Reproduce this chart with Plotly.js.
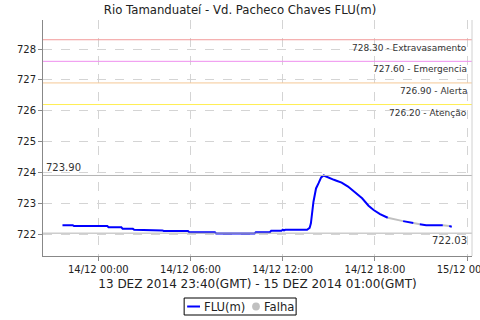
<!DOCTYPE html>
<html>
<head>
<meta charset="utf-8">
<script src="https://cdn.plot.ly/plotly-3.0.1.min.js"></script>
<style>html,body{margin:0;padding:0;background:#fff;}#chart{width:480px;height:320px;}</style>
</head>
<body>
<div id="chart"></div>
<script>
// ---- data ----
const times = [
  "2014-12-13 21:40","2014-12-13 22:20","2014-12-13 22:25","2014-12-14 00:35","2014-12-14 00:40",
  "2014-12-14 01:30","2014-12-14 01:35","2014-12-14 02:15","2014-12-14 02:20","2014-12-14 03:10",
  "2014-12-14 03:15","2014-12-14 04:10","2014-12-14 04:15","2014-12-14 05:50","2014-12-14 05:55",
  "2014-12-14 07:35","2014-12-14 07:40","2014-12-14 10:10","2014-12-14 10:15","2014-12-14 11:10",
  "2014-12-14 11:15","2014-12-14 11:55","2014-12-14 12:00","2014-12-14 12:05","2014-12-14 12:10",
  "2014-12-14 13:35","2014-12-14 13:45","2014-12-14 13:50","2014-12-14 14:00","2014-12-14 14:10",
  "2014-12-14 14:20","2014-12-14 14:30","2014-12-14 14:40","2014-12-14 14:50","2014-12-14 15:00",
  "2014-12-14 15:10","2014-12-14 15:20","2014-12-14 15:30","2014-12-14 15:50","2014-12-14 16:15",
  "2014-12-14 16:40","2014-12-14 17:10","2014-12-14 17:35","2014-12-14 17:55","2014-12-14 18:20",
  "2014-12-14 18:50","2014-12-14 19:20","2014-12-14 19:50","2014-12-14 20:10","2014-12-14 20:30",
  "2014-12-14 20:42","2014-12-14 20:55","2014-12-14 21:20","2014-12-14 22:25","2014-12-14 22:37",
  "2014-12-14 22:50","2014-12-14 23:00"
];
const fluValues = [
  722.29,722.29,722.26,722.26,722.22,
  722.22,722.17,722.17,722.14,722.14,
  722.12,722.12,722.10,722.10,722.06,
  722.06,722.02,722.02,722.06,722.06,
  722.11,722.11,722.14,722.12,722.14,
  722.14,722.20,722.35,723.05,723.48,
  723.65,723.84,723.90,723.86,723.83,
  723.78,723.76,723.73,723.67,723.54,
  723.37,723.16,722.92,722.78,722.65,
  722.53,null,722.42,722.38,722.36,
  null,722.32,722.29,722.29,null,
  722.26,722.24
];
const falhaValues = [
  null,null,null,null,null,
  null,null,null,null,null,
  null,null,null,null,null,
  null,null,null,null,null,
  null,null,null,null,null,
  null,null,null,null,null,
  null,null,null,null,null,
  null,null,null,null,null,
  null,null,null,null,null,
  722.53,722.47,722.42,null,722.36,
  722.34,722.32,null,722.29,722.28,
  722.26,null
];
const thresholdValues = [728.30, 727.60, 726.90, 726.20];
const thresholdNames  = ["Extravasamento", "Emergencia", "Alerta", "Atenção"];
const thresholdColors = ["#f29a9a", "#ee90ee", "#f5c896", "#ffee55"];
const maxValue = 723.90;
const minValue = 722.03;
const seriesNames = ["FLU(m)", "Falha"];
const seriesColors = ["#0000ff", "#c0c0c0"];
const xTickVals = ["2014-12-14 00:00","2014-12-14 06:00","2014-12-14 12:00","2014-12-14 18:00","2014-12-15 00:00"];
const yTickVals = [722, 723, 724, 725, 726, 727, 728];

const FONT = "DejaVu Sans, Verdana, sans-serif";

const traces = [
  {x: times, y: falhaValues, type: "scatter", mode: "lines", name: seriesNames[1],
   line: {color: seriesColors[1], width: 2}, showlegend: false, connectgaps: false},
  {x: times, y: fluValues, type: "scatter", mode: "lines", name: seriesNames[0],
   line: {color: seriesColors[0], width: 2}, showlegend: false, connectgaps: false}
];

const shapes = [];
const annotations = [];
thresholdValues.forEach((v, i) => {
  shapes.push({type: "line", xref: "paper", x0: 0, x1: 1, yref: "y", y0: v, y1: v,
               line: {color: thresholdColors[i], width: 1}});
  annotations.push({xref: "paper", x: 1, xanchor: "right", xshift: -3, yref: "y", y: v, yanchor: "top", yshift: -1,
                    text: v.toFixed(2) + " - " + thresholdNames[i], showarrow: false,
                    font: {family: FONT, size: 9, color: "#333"}});
});
shapes.push({type: "line", xref: "paper", x0: 0, x1: 1, yref: "y", y0: maxValue, y1: maxValue,
             line: {color: "#b4b4b4", width: 1}});
shapes.push({type: "line", xref: "paper", x0: 0, x1: 1, yref: "y", y0: minValue, y1: minValue,
             line: {color: "#b4b4b4", width: 1}});
shapes.push({type: "line", xref: "paper", x0: 1, x1: 1, yref: "paper", y0: 0, y1: 1,
             line: {color: "#d0d0d0", width: 1}});
annotations.push({xref: "paper", x: 0, xanchor: "left", xshift: 1, yref: "y", y: maxValue, yanchor: "bottom",
                  text: maxValue.toFixed(2), showarrow: false, font: {family: FONT, size: 10, color: "#333"}});
annotations.push({xref: "paper", x: 1, xanchor: "right", xshift: -3, yref: "y", y: minValue, yanchor: "top",
                  text: minValue.toFixed(2), showarrow: false, font: {family: FONT, size: 10, color: "#333"}});

// legend box (paper coordinates below the plot area)
shapes.push({type: "rect", xref: "paper", yref: "paper", x0: 0.329, x1: 0.590, y0: -0.25, y1: -0.178,
             line: {color: "#000", width: 1}, fillcolor: "#fff"});
shapes.push({type: "line", xref: "paper", yref: "paper", x0: 0.336, x1: 0.366, y0: -0.214, y1: -0.214,
             line: {color: seriesColors[0], width: 2}});
shapes.push({type: "circle", xref: "paper", yref: "paper", x0: 0.4875, x1: 0.5055, y0: -0.197, y1: -0.231,
             line: {color: seriesColors[1], width: 0}, fillcolor: seriesColors[1]});
annotations.push({xref: "paper", yref: "paper", x: 0.370, xanchor: "left", y: -0.214, yanchor: "middle",
                  text: seriesNames[0], showarrow: false, font: {family: FONT, size: 11.6, color: "#222"}});
annotations.push({xref: "paper", yref: "paper", x: 0.510, xanchor: "left", y: -0.214, yanchor: "middle",
                  text: seriesNames[1], showarrow: false, font: {family: FONT, size: 11.6, color: "#222"}});

const layout = {
  width: 480, height: 320,
  margin: {l: 43, r: 8, t: 20, b: 64},
  showlegend: false,
  paper_bgcolor: "#fff", plot_bgcolor: "#fff",
  font: {family: FONT, size: 10, color: "#222"},
  title: {text: "Rio Tamanduateí - Vd. Pacheco Chaves FLU(m)", font: {family: FONT, size: 11.7, color: "#222"},
          x: 0.5, xanchor: "center", y: 0.97, yanchor: "middle"},
  xaxis: {
    type: "date",
    range: ["2014-12-13 20:24", "2014-12-15 00:19"],
    tickvals: xTickVals, tickformat: "%d/%m %H:%M",
    ticklabeloverflow: "allow",
    showgrid: true, gridcolor: "#d4d4d4", griddash: "dash", gridwidth: 1,
    showline: true, linecolor: "#888", linewidth: 1,
    ticks: "outside", ticklen: 4, tickcolor: "#888",
    zeroline: false,
    tickfont: {family: FONT, size: 10, color: "#222"},
    title: {text: "13 DEZ 2014 23:40(GMT) - 15 DEZ 2014 01:00(GMT)", font: {family: FONT, size: 12, color: "#222"}, standoff: 5}
  },
  yaxis: {
    range: [721.29, 728.94],
    tickvals: yTickVals, tickformat: "d",
    showgrid: true, gridcolor: "#d4d4d4", griddash: "dash", gridwidth: 1,
    showline: true, linecolor: "#888", linewidth: 1,
    ticks: "outside", ticklen: 4, tickcolor: "#888",
    zeroline: false,
    tickfont: {family: FONT, size: 10, color: "#222"}
  },
  shapes: shapes,
  annotations: annotations
};

Plotly.newPlot("chart", traces, layout, {staticPlot: true, displayModeBar: false});
</script>
</body>
</html>
